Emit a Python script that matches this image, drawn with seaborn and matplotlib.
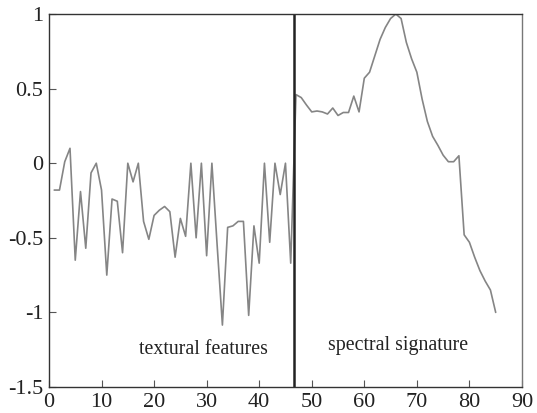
import matplotlib
matplotlib.use("Agg")
import matplotlib.pyplot as plt
import seaborn as sns
import pandas as pd

# Feature index and normalised feature values
x_values = list(range(1, 86))
texture_values = [
    -0.18, -0.18, 0.01, 0.10, -0.65, -0.19, -0.57, -0.065, 0.0, -0.18,
    -0.75, -0.24, -0.255, -0.60, 0.0, -0.125, 0.0, -0.39, -0.51, -0.35,
    -0.315, -0.29, -0.325, -0.63, -0.37, -0.49, 0.0, -0.50, 0.0, -0.62,
    0.0, -0.55, -1.085, -0.43, -0.42, -0.39, -0.39, -1.02, -0.42, -0.67,
    0.0, -0.53, 0.0, -0.21, 0.0, -0.67,
]
spectral_values = [
    0.46, 0.44, 0.39, 0.344, 0.35, 0.344, 0.33, 0.37, 0.32, 0.34,
    0.34, 0.45, 0.344, 0.57, 0.61, 0.72, 0.83, 0.91, 0.97, 1.0,
    0.97, 0.81, 0.70, 0.61, 0.43, 0.28, 0.18, 0.12, 0.054, 0.01,
    0.01, 0.05, -0.48, -0.53, -0.63, -0.72, -0.79, -0.85, -1.0,
]
boundary = 46.6
x_ticks = [0, 10, 20, 30, 40, 50, 60, 70, 80, 90]
y_ticks = [-1.5, -1, -0.5, 0, 0.5, 1]
y_tick_labels = ["-1.5", "-1", "-0.5", "0", "0.5", "1"]

df = pd.DataFrame({"index": x_values, "value": texture_values + spectral_values})

sns.set_style("white")
plt.rcParams["font.family"] = ["Liberation Serif", "DejaVu Serif"]

fig = plt.figure(figsize=(5.37, 4.13), dpi=100)
ax = fig.add_axes([0.0912, 0.063, 0.8808, 0.903])

sns.lineplot(data=df, x="index", y="value", ax=ax, color="#858585", linewidth=1.2)
ax.axvline(boundary, color="#222222", linewidth=1.8)

ax.set_xlim(0, 90)
ax.set_ylim(-1.5, 1)
ax.set_xticks(x_ticks)
ax.set_yticks(y_ticks)
ax.set_yticklabels(y_tick_labels)
ax.set_xlabel("")
ax.set_ylabel("")
ax.tick_params(direction="in", length=5, width=0.8, colors="#555555",
               labelcolor="#222222", labelsize=16, pad=4,
               bottom=True, left=True, top=False, right=False)

for side in ["left", "bottom", "top", "right"]:
    ax.spines[side].set_visible(True)
    ax.spines[side].set_color("#333333")
    ax.spines[side].set_linewidth(1.0)
ax.spines["right"].set_color("#777777")

ax.text(29.3, -1.25, "textural features", fontsize=14.3, ha="center", va="center", color="#222222")
ax.text(66.4, -1.22, "spectral signature", fontsize=14.3, ha="center", va="center", color="#222222")

fig.savefig("out.png", dpi=100)
